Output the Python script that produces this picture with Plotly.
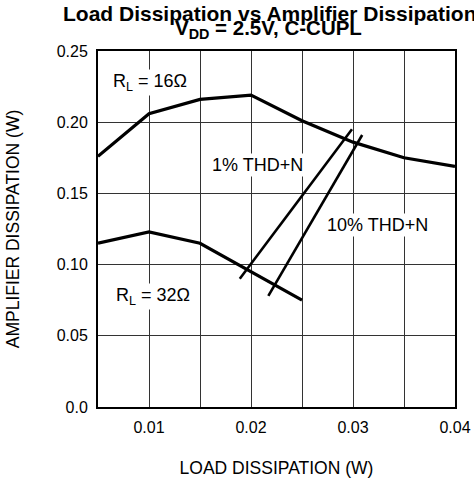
import plotly.graph_objects as go

load_w = [0.005, 0.01, 0.015, 0.02, 0.025, 0.03, 0.035, 0.04]
amp_16 = [0.176, 0.206, 0.216, 0.219, 0.201, 0.186, 0.175, 0.169]
load_32 = [0.005, 0.01, 0.015, 0.02, 0.025]
amp_32 = [0.115, 0.123, 0.115, 0.095, 0.075]
thd1_x = [0.0189, 0.0299]
thd1_y = [0.090, 0.195]
thd10_x = [0.0217, 0.0309]
thd10_y = [0.078, 0.191]

x_ticks = [0.01, 0.02, 0.03, 0.04]
x_tick_text = ["0.01", "0.02", "0.03", "0.04"]
y_ticks = [0.0, 0.05, 0.10, 0.15, 0.20, 0.25]
y_tick_text = ["0.0", "0.05", "0.10", "0.15", "0.20", "0.25"]

FONT = "Liberation Sans, Arial, sans-serif"

W, H = 474, 481
ml, mr, mt, mb = 98, 19, 51, 74
pw, ph = W - ml - mr, H - mt - mb


def px_x(p):
    return (p - ml) / pw


def px_y(p):
    return (H - mb - p) / ph


fig = go.Figure()
for xs, ys in [(load_w, amp_16), (load_32, amp_32)]:
    fig.add_trace(go.Scatter(x=xs, y=ys, mode="lines",
                             line=dict(color="black", width=3.2), hoverinfo="skip"))
for xs, ys in [(thd1_x, thd1_y), (thd10_x, thd10_y)]:
    fig.add_trace(go.Scatter(x=xs, y=ys, mode="lines",
                             line=dict(color="black", width=2.6), hoverinfo="skip"))


def ann(x, y, text):
    fig.add_annotation(x=x, y=y, xref="x", yref="y", text=text, showarrow=False,
                       bgcolor="white", font=dict(family=FONT, size=18, color="black"),
                       borderpad=1)


ann(0.0101, 0.228, "R<sub>L</sub> = 16Ω")
ann(0.0206, 0.170, "1% THD+N")
ann(0.0324, 0.1278, "10% THD+N")
ann(0.0104, 0.0775, "R<sub>L</sub> = 32Ω")

fig.add_annotation(x=px_x(269), y=px_y(27), xref="paper", yref="paper",
                   text="<b>Load Dissipation vs Amplifier Dissipation</b>",
                   showarrow=False, xanchor="center", yanchor="bottom",
                   font=dict(family=FONT, size=21, color="black"))
fig.add_annotation(x=px_x(268), y=px_y(44), xref="paper", yref="paper",
                   text="<b>V<sub>DD</sub> = 2.5V, C-CUPL</b>",
                   showarrow=False, xanchor="center", yanchor="bottom",
                   font=dict(family=FONT, size=20.5, color="black"))

fig.update_layout(
    width=W, height=H,
    margin=dict(l=ml, r=mr, t=mt, b=mb, autoexpand=False),
    paper_bgcolor="white", plot_bgcolor="white",
    showlegend=False,
    font=dict(family=FONT, size=16, color="black"),
    xaxis=dict(range=[0.005, 0.04], tickvals=x_ticks, ticktext=x_tick_text,
               showgrid=True, gridcolor="#333333", gridwidth=1,
               minor=dict(dtick=0.005, tick0=0.005, showgrid=True,
                          gridcolor="#333333", gridwidth=1),
               showline=True, linecolor="black", linewidth=2, mirror=True,
               zeroline=False, ticks="", ticklabelstandoff=5, automargin=False,
               tickfont=dict(size=16),
               title=dict(text="LOAD DISSIPATION (W)", font=dict(size=17.5), standoff=27)),
    yaxis=dict(range=[0, 0.25], tickvals=y_ticks, ticktext=y_tick_text,
               showgrid=True, gridcolor="#333333", gridwidth=1,
               showline=True, linecolor="black", linewidth=2, mirror=True,
               zeroline=False, ticks="", ticklabelstandoff=5, automargin=False,
               tickfont=dict(size=16),
               title=dict(text="AMPLIFIER DISSIPATION (W)", font=dict(size=17.5), standoff=33)),
)

fig.write_html("out.html", config={"displayModeBar": False},
               post_script="document.body.style.margin='0';document.body.style.overflow='hidden';")
